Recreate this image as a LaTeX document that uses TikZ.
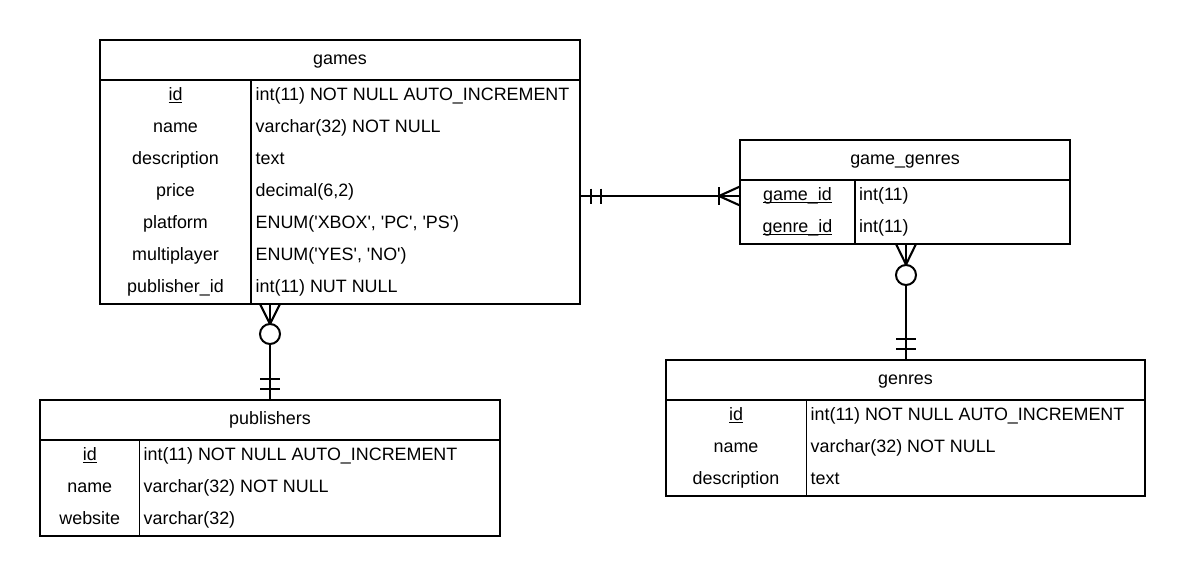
\documentclass[tikz,border=0pt]{standalone}
\usepackage{fontspec}
\setmainfont{Liberation Sans}[Ligatures=TeXOff]
\newcommand\fs{\fontsize{17.9}{21}\selectfont}
\newcommand\ulk[1]{\setbox0=\hbox{#1}\rlap{\rule[-2.4pt]{\wd0}{1.3pt}}\box0}
\tikzset{
  tbl/.style={draw, line width=1.9pt, rectangle, anchor=north west, inner sep=0pt, outer sep=0pt},
  ln/.style={line width=1.9pt},
  ttl/.style={anchor=base, inner sep=0pt, font=\fs},
  fname/.style={anchor=base, inner sep=0pt, font=\fs},
  ftype/.style={anchor=base west, inner sep=0pt, font=\fs},
  conn/.style={line width=2.1pt},
  ring/.style={circle, draw, line width=2pt, fill=white, minimum size=20pt, inner sep=0pt},
}
\begin{document}
\begin{tikzpicture}[x=1pt,y=-1pt]
\useasboundingbox (0,0) rectangle (1186,576);
% ---------- games ----------
\node[tbl, minimum width=480pt, minimum height=264pt] (games) at (100,40) {};
\node[ttl] (games-h) at (340,64.5) {games};
\draw[ln] (100,80) -- (580,80);
\draw[ln] (251,80) -- (251,304);
\foreach \i/\n/\t in {0/{\ulk{id}}/{int(11) NOT NULL AUTO\_INCREMENT},
                      1/{name}/{varchar(32) NOT NULL},
                      2/{description}/{text},
                      3/{price}/{decimal(6,2)},
                      4/{platform}/{ENUM('XBOX', 'PC', 'PS')},
                      5/{multiplayer}/{ENUM('YES', 'NO')},
                      6/{publisher\_id}/{int(11) NUT NULL}}{
  \node[fname] (games-n\i) at (175.5,100.5+32*\i) {\n};
  \node[ftype] (games-t\i) at (255.5,100.5+32*\i) {\t};
}
% ---------- game_genres ----------
\node[tbl, minimum width=330pt, minimum height=104pt] (gg) at (740,140) {};
\node[ttl] (gg-h) at (905,164.5) {game\_genres};
\draw[ln] (740,180) -- (1070,180);
\draw[ln] (855,180) -- (855,244);
\foreach \i/\n/\t in {0/{\ulk{game\_id}}/{int(11)},
                      1/{\ulk{genre\_id}}/{int(11)}}{
  \node[fname] (gg-n\i) at (797.5,200.5+32*\i) {\n};
  \node[ftype] (gg-t\i) at (859,200.5+32*\i) {\t};
}
% ---------- publishers ----------
\node[tbl, minimum width=460pt, minimum height=136pt] (pub) at (40,400) {};
\node[ttl] (pub-h) at (270,424.5) {publishers};
\draw[ln] (40,440) -- (500,440);
\draw[ln] (139.5,440) -- (139.5,536);
\foreach \i/\n/\t in {0/{\ulk{id}}/{int(11) NOT NULL AUTO\_INCREMENT},
                      1/{name}/{varchar(32) NOT NULL},
                      2/{website}/{varchar(32)}}{
  \node[fname] (pub-n\i) at (89.75,460.5+32*\i) {\n};
  \node[ftype] (pub-t\i) at (143.5,460.5+32*\i) {\t};
}
% ---------- genres ----------
\node[tbl, minimum width=479pt, minimum height=136pt] (gen) at (666,360) {};
\node[ttl] (gen-h) at (905.5,384.5) {genres};
\draw[ln] (666,400) -- (1145,400);
\draw[ln] (806.5,400) -- (806.5,496);
\foreach \i/\n/\t in {0/{\ulk{id}}/{int(11) NOT NULL AUTO\_INCREMENT},
                      1/{name}/{varchar(32) NOT NULL},
                      2/{description}/{text}}{
  \node[fname] (gen-n\i) at (736,420.5+32*\i) {\n};
  \node[ftype] (gen-t\i) at (810.5,420.5+32*\i) {\t};
}
% ---------- games -- game_genres (one to many) ----------
\draw[conn] (games.east |- 0,196) -- (gg.west |- 0,196);
\draw[conn] (591,188.5) -- (591,203.5);
\draw[conn] (601,188.5) -- (601,203.5);
\draw[conn] (719,187) -- (719,205);
\draw[conn] (740,186.5) -- (719,196) -- (740,205.5);
% ---------- games -- publishers (zero or many / mandatory one) ----------
\coordinate (gp-top) at (games.south -| 270,0);
\coordinate (gp-bot) at (pub.north -| 270,0);
\draw[conn] (gp-top) -- (gp-bot);
\draw[conn] (260,304) -- (270,324) -- (280,304);
\node[ring] (gp-ring) at (270,334) {};
\draw[conn] (260,379) -- (280,379);
\draw[conn] (260,389) -- (280,389);
% ---------- game_genres -- genres ----------
\coordinate (gg-top) at (gg.south -| 906,0);
\coordinate (gg-bot) at (gen.north -| 906,0);
\draw[conn] (gg-top) -- (gg-bot);
\draw[conn] (896,244) -- (906,264.5) -- (916,244);
\node[ring] (gg-ring) at (906,275) {};
\draw[conn] (896,339) -- (916,339);
\draw[conn] (896,349) -- (916,349);
\end{tikzpicture}
\end{document}
